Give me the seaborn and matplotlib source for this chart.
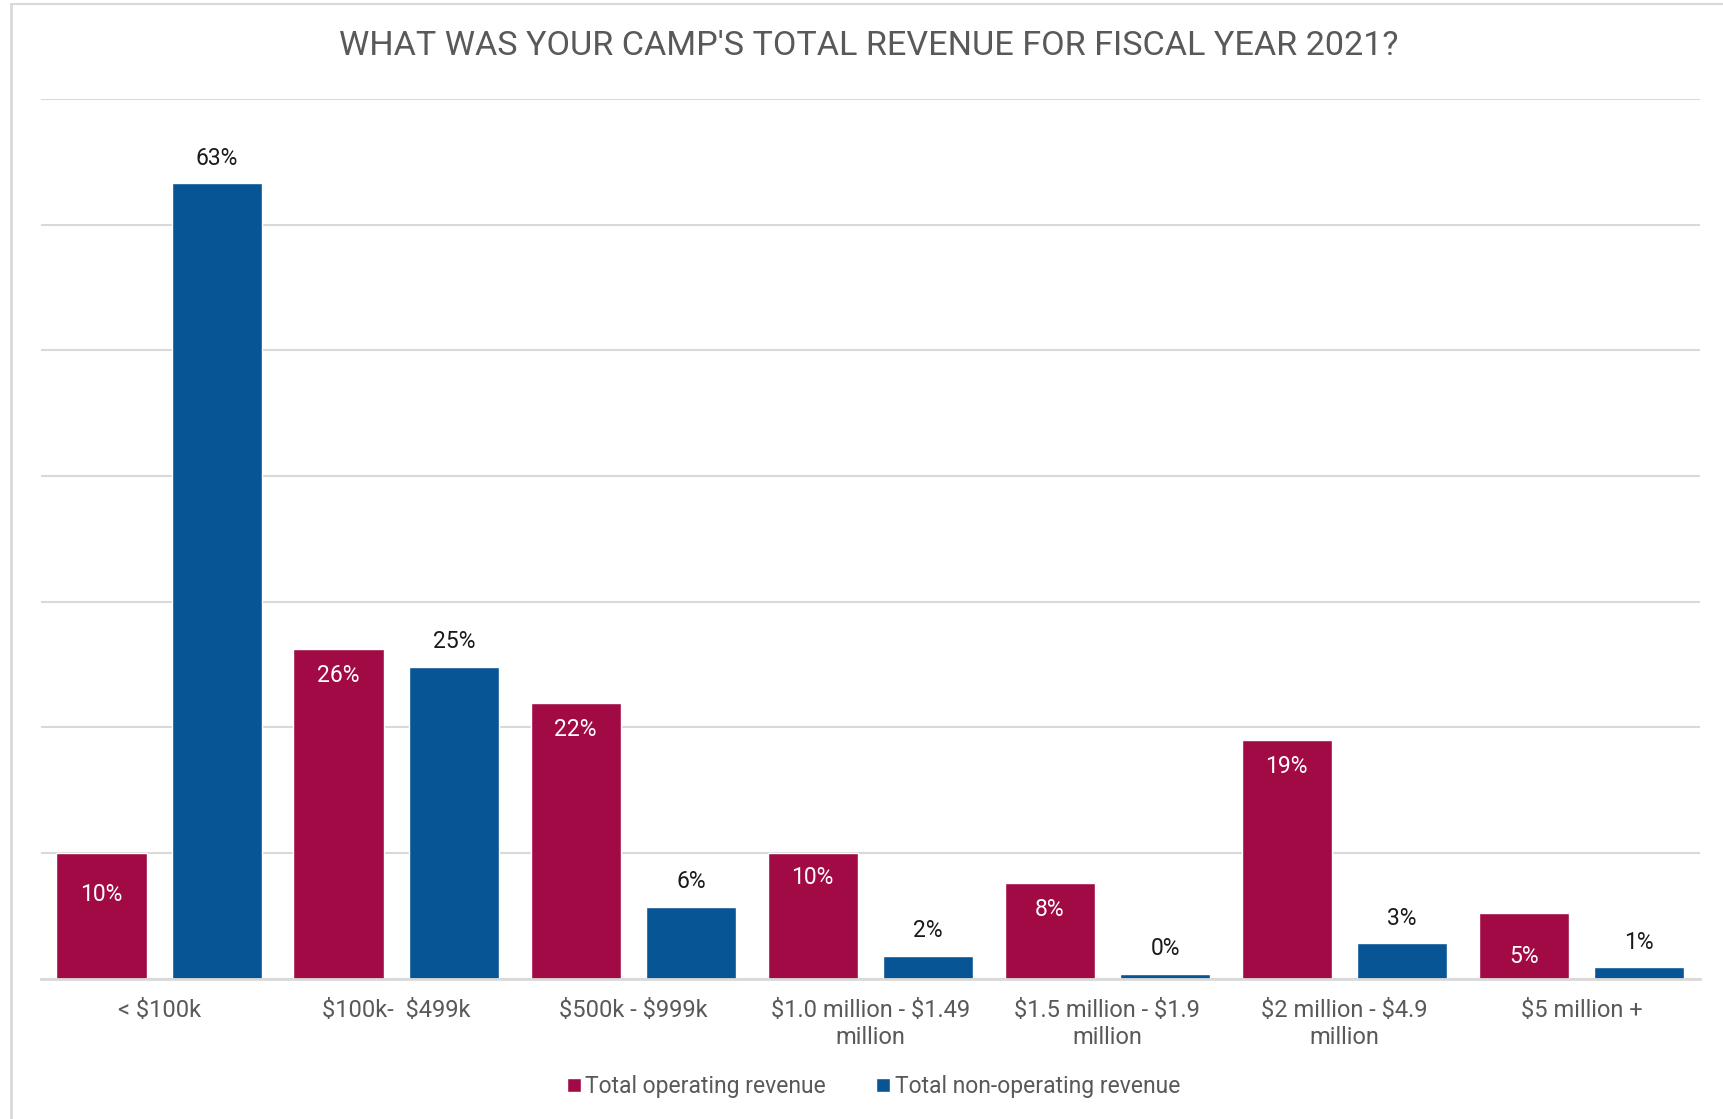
import pandas as pd
import matplotlib.pyplot as plt
import seaborn as sns
from matplotlib.lines import Line2D

# data (percent of camps)
categories = ["< $100k", "$100k-  $499k", "$500k - $999k", "$1.0 million - $1.49\nmillion",
              "$1.5 million - $1.9\nmillion", "$2 million - $4.9\nmillion", "$5 million +"]
operating = [10.0, 26.2, 21.9, 10.0, 7.6, 19.0, 5.2]
non_operating = [63.3, 24.8, 5.7, 1.8, 0.4, 2.8, 0.9]
series = ["Total operating revenue", "Total non-operating revenue"]

df = pd.DataFrame({
    "range": categories * 2,
    "series": [series[0]] * len(categories) + [series[1]] * len(categories),
    "pct": operating + non_operating,
})

red = "#A20A46"
blue = "#085596"
grey = "#595959"

sns.set_theme(style="white")
plt.rcParams["font.family"] = ["Roboto", "DejaVu Sans"]
plt.rcParams["text.parse_math"] = False

fig = plt.figure(figsize=(17.24, 11.19), dpi=100)
ax = fig.add_axes([0.0236, 0.1255, 0.9624, 0.786])

sns.barplot(data=df, x="range", y="pct", hue="series", palette=[red, blue],
            width=0.974, gap=0.22, saturation=1, ax=ax)

ax.set_xlim(-0.5, 6.5)
ax.set_ylim(0, 70)
ax.set_yticks(range(0, 71, 10))
ax.set_yticklabels([])
ax.tick_params(axis="y", length=0)
ax.yaxis.grid(True, color="#d9d9d9", linewidth=1.5)
ax.set_axisbelow(True)
for s in ["left", "right", "top"]:
    ax.spines[s].set_visible(False)
ax.spines["bottom"].set_color("#d9d9d9")
ax.spines["bottom"].set_linewidth(2)
ax.set_xlabel("")
ax.set_ylabel("")
ax.tick_params(axis="x", length=0, pad=15, labelsize=17, labelcolor=grey)
for t in ax.get_xticklabels():
    t.set_linespacing(1.22)

# data labels: white inside operating bars, black above non-operating bars
red_offsets = [-30, -19, -19, -18, -19, -19, -31]
for bar, val, off in zip(ax.containers[0], operating, red_offsets):
    ax.annotate(f"{round(val):.0f}%", (bar.get_x() + bar.get_width() / 2, bar.get_height()),
                xytext=(0, off), textcoords="offset points", ha="center", va="center",
                color="white", fontsize=16.5)
for bar, val in zip(ax.containers[1], non_operating):
    ax.annotate(f"{round(val):.0f}%", (bar.get_x() + bar.get_width() / 2, bar.get_height()),
                xytext=(0, 18), textcoords="offset points", ha="center", va="center",
                color="#1a1a1a", fontsize=16.5)

sns.move_legend(ax, "center", bbox_to_anchor=(0.502, -0.123), ncol=2, frameon=False,
                title=None, fontsize=16.5, handlelength=0.6, handleheight=0.6,
                handletextpad=0.2, columnspacing=2.2)
for t in ax.get_legend().get_texts():
    t.set_color(grey)

fig.text(0.504, 0.959, "WHAT WAS YOUR CAMP'S TOTAL REVENUE FOR FISCAL YEAR 2021?",
         ha="center", va="center", fontsize=24.6, color=grey)

# chart frame
fig.add_artist(Line2D([0.0064, 0.0064], [0, 0.9965], color="#d9d9d9", linewidth=2))
fig.add_artist(Line2D([0.0064, 1], [0.9965, 0.9965], color="#d9d9d9", linewidth=1.5))

fig.savefig("out.png", dpi=100)
